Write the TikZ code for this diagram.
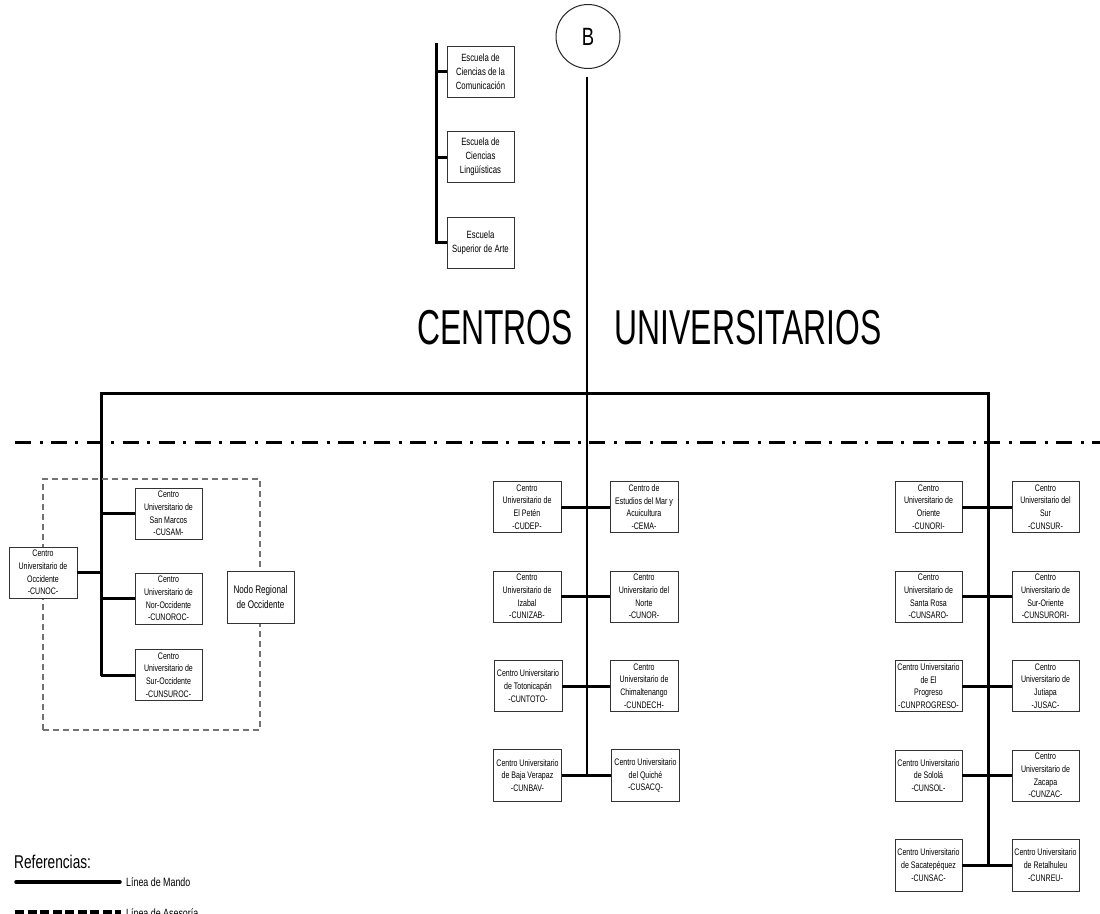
\documentclass[tikz,border=0pt]{standalone}
\usepackage{fontspec}
\setmainfont[FakeStretch=0.74]{Liberation Sans}
\newfontfamily\titlefont[FakeStretch=0.65]{Liberation Sans}
\begin{document}
\begin{tikzpicture}[x=1pt,y=-1pt,
  cbox/.style={draw=black!80, line width=0.8pt, fill=white, align=center, inner sep=0pt,
    minimum width=67pt, minimum height=51pt, font=\fontsize{9.5}{12.7}\selectfont},
  ebox/.style={cbox, font=\fontsize{10.5}{14}\selectfont},
  mando/.style={line width=3pt},
  spine/.style={line width=2pt},
  thinline/.style={line width=1.4pt},
  titletext/.style={inner sep=0pt, font=\titlefont\fontsize{49}{49}\selectfont},
  frame/.style={draw=black!55, line width=1.4pt, dash pattern=on 6pt off 4pt, inner sep=0pt},
  legtext/.style={anchor=west, inner sep=0pt, font=\fontsize{12}{14}\selectfont}
]
\useasboundingbox (0,0) rectangle (1100,913);
\clip (0,0) rectangle (1100,913);
\fill[white] (0,0) rectangle (1100,913);

% ---------- B connector ----------
\node[circle, draw=black!85, line width=1pt, minimum size=64pt, inner sep=0pt,
  font=\fontsize{25}{25}\selectfont] (B) at (588,36.5) {B};
\coordinate (btop) at (587,77);
\coordinate (bar) at (587,393);
\coordinate (mend) at (587,775);
\draw[thinline] (btop) -- (bar);
\draw[spine] (bar) -- (mend);

% ---------- Escuelas ----------
\coordinate (etop) at (436,43);
\node[ebox] (e1) at (480.5,71.5) {Escuela de\\Ciencias de la\\Comunicación};
\node[ebox] (e2) at (480.5,157) {Escuela de\\Ciencias\\Lingüísticas};
\node[ebox] (e3) at (480.5,242.5) {Escuela\\Superior de Arte};
\draw[mando] (etop) |- (e3.west);
\draw[mando] (e1.west) -- (e1.west -| etop);
\draw[mando] (e2.west) -- (e2.west -| etop);

% ---------- Title ----------
\node[titletext] (t1) at (495,327.5) {CENTROS};
\node[titletext] (t2) at (748,327.5) {UNIVERSITARIOS};

% ---------- Dash-dot line ----------
\coordinate (d1) at (15,442);
\coordinate (d2) at (1100,442);
\draw[line width=3pt, dash pattern=on 16pt off 8.5pt on 3pt off 8.4pt] (d1) -- (d2);

% ---------- Main bar ----------
\coordinate (L) at (101,393);
\coordinate (R) at (988,393);
\coordinate (Lend) at (101,676);
\coordinate (Rend) at (988,865);
\draw[mando] (Lend) -- (L) -- (R) -- (Rend);

% ---------- Left cluster ----------
\node[frame, minimum width=217pt, minimum height=251pt] (nframe) at (151.5,604.5) {};
\node[cbox, minimum width=68pt] (cunoc) at (43,572.5) {Centro\\Universitario de\\Occidente\\-CUNOC-};
\node[cbox] (cusam) at (168.5,513.5) {Centro\\Universitario de\\San Marcos\\-CUSAM-};
\node[cbox] (cunoroc) at (168.5,598.5) {Centro\\Universitario de\\Nor-Occidente\\-CUNOROC-};
\node[cbox] (cunsuroc) at (168.5,675) {Centro\\Universitario de\\Sur-Occidente\\-CUNSUROC-};
\node[cbox, minimum height=52pt, font=\fontsize{11}{14.5}\selectfont] (nodo) at (260.5,597) {Nodo Regional\\de Occidente};
\draw[mando] (cunoc.east) -- (cunoc.east -| L);
\draw[mando] (cusam.west) -- (cusam.west -| L);
\draw[mando] (cunoroc.west) -- (cunoroc.west -| L);
\draw[mando] (cunsuroc.west) -- (cunsuroc.west -| L);

% ---------- Middle cluster ----------
\node[cbox, minimum width=68pt] (m1l) at (527,507) {Centro\\Universitario de\\El Petén\\-CUDEP-};
\node[cbox, minimum width=68pt] (m1r) at (644,507) {Centro de\\Estudios del Mar y\\Acuicultura\\-CEMA-};
\node[cbox, minimum width=68pt] (m2l) at (527,596.5) {Centro\\Universitario de\\Izabal\\-CUNIZAB-};
\node[cbox, minimum width=68pt] (m2r) at (644,596.5) {Centro\\Universitario del\\Norte\\-CUNOR-};
\node[cbox, minimum width=68pt] (m3l) at (528,686) {Centro Universitario\\de Totonicapán\\-CUNTOTO-};
\node[cbox, minimum width=68pt] (m3r) at (644,686) {Centro\\Universitario de\\Chimaltenango\\-CUNDECH-};
\node[cbox, minimum width=68pt, minimum height=52pt] (m4l) at (527.5,775.5) {Centro Universitario\\de Baja Verapaz\\-CUNBAV-};
\node[cbox, minimum width=68pt, minimum height=52pt] (m4r) at (645.5,775.5) {Centro Universitario\\del Quiché\\-CUSACQ-};
\draw[mando] (m1l.east) -- (m1r.west);
\draw[mando] (m2l.east) -- (m2r.west);
\draw[mando] (m3l.east) -- (m3r.west);
\draw[mando] (m4l.east) -- (m4r.west);

% ---------- Right cluster ----------
\node[cbox] (r1l) at (928.5,507) {Centro\\Universitario de\\Oriente\\-CUNORI-};
\node[cbox] (r1r) at (1045.5,507) {Centro\\Universitario del\\Sur\\-CUNSUR-};
\node[cbox] (r2l) at (928.5,596.5) {Centro\\Universitario de\\Santa Rosa\\-CUNSARO-};
\node[cbox] (r2r) at (1045.5,596.5) {Centro\\Universitario de\\Sur-Oriente\\-CUNSURORI-};
\node[cbox] (r3l) at (928.5,686) {Centro Universitario\\de El\\Progreso\\-CUNPROGRESO-};
\node[cbox] (r3r) at (1045.5,686) {Centro\\Universitario de\\Jutiapa\\-JUSAC-};
\node[cbox] (r4l) at (928.5,775.5) {Centro Universitario\\de Sololá\\-CUNSOL-};
\node[cbox] (r4r) at (1045.5,775.5) {Centro\\Universitario de\\Zacapa\\-CUNZAC-};
\node[cbox, minimum height=52pt] (r5l) at (928.5,865) {Centro Universitario\\de Sacatepéquez\\-CUNSAC-};
\node[cbox, minimum height=52pt] (r5r) at (1045.5,865) {Centro Universitario\\de Retalhuleu\\-CUNREU-};
\draw[mando] (r1l.east) -- (r1r.west);
\draw[mando] (r2l.east) -- (r2r.west);
\draw[mando] (r3l.east) -- (r3r.west);
\draw[mando] (r4l.east) -- (r4r.west);
\draw[mando] (r5l.east) -- (r5r.west);

% ---------- Legend ----------
\node[anchor=west, inner sep=0pt, font=\fontsize{18.5}{20}\selectfont] (ref) at (14,862) {Referencias:};
\coordinate (lm1) at (16,882);
\coordinate (lm2) at (120,882);
\draw[line width=3.5pt, line cap=round] (lm1) -- (lm2);
\node[legtext] (lmt) at (126,882.5) {Línea de Mando};
\coordinate (la1) at (15,912);
\coordinate (la2) at (121,912);
\draw[line width=3.5pt, dash pattern=on 9pt off 3.5pt] (la1) -- (la2);
\node[legtext] (lat) at (126,913) {Línea de Asesoría};
\end{tikzpicture}
\end{document}
